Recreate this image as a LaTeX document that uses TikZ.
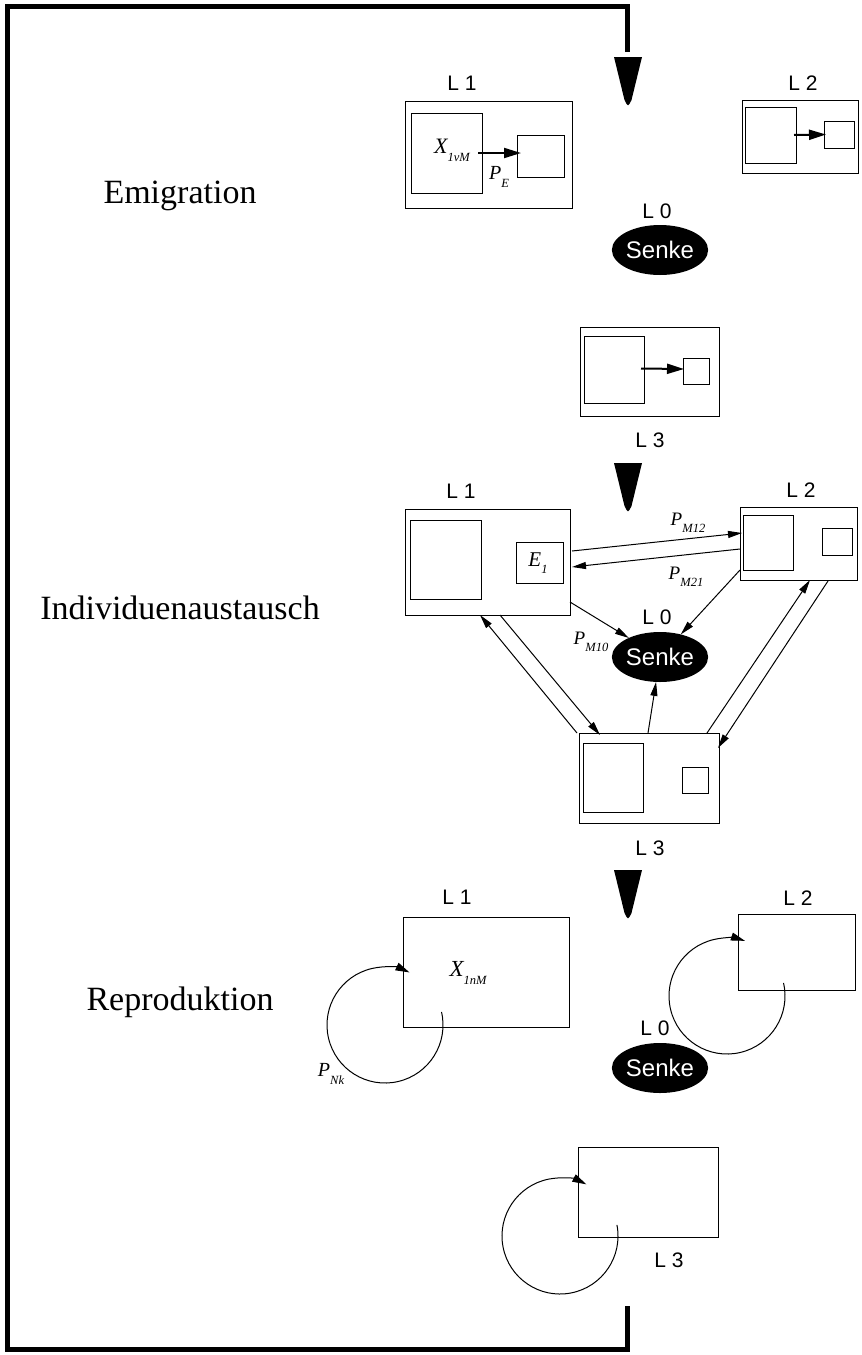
\documentclass[tikz,border=0pt]{standalone}
\usepackage{fontspec}
\setmainfont{Liberation Serif}
\newfontfamily\sansf{Liberation Sans}
\usetikzlibrary{arrows.meta,shapes.geometric,calc}
\newcommand{\msub}[1]{\raisebox{-0.8ex}{\fontsize{12.5}{12.5}\selectfont\itshape #1}}
\tikzset{
  box/.style={draw, line width=1pt, anchor=north west, inner sep=0pt, outer sep=0pt},
  lab/.style={font=\sansf\fontsize{21}{21}\selectfont, inner sep=0pt},
  sect/.style={font=\fontsize{34}{34}\selectfont, inner sep=0pt},
  senke/.style={ellipse, fill=black, text=white, minimum width=76pt, minimum height=50pt, inner sep=0pt, outer sep=0pt, font=\sansf\fontsize{24}{24}\selectfont},
  heavyarr/.style={line width=2pt, -{Triangle[length=17pt,width=10pt]}},
  thinarr/.style={line width=1pt, -{Triangle[length=14pt,width=7pt]}},
  looparr/.style={line width=1pt, -{Triangle[length=14pt,width=8pt]}},
  mlab/.style={font=\fontsize{22}{22}\selectfont\itshape, inner sep=0pt},
  smlab/.style={font=\fontsize{19}{19}\selectfont\itshape, inner sep=0pt},
  frameline/.style={line width=5pt, line join=miter}
}
\begin{document}
\begin{tikzpicture}[x=1pt,y=-1pt]
\useasboundingbox (0,0) rectangle (862,1355);
\fill[white] (0,0) rectangle (862,1355);
% frame
\draw[frameline] (627,52) -- (627,6) -- (7,6) -- (7,1349) -- (627,1349) -- (627,1306);
% step triangles
\foreach \t in {57,463,870}{
  \fill (614,\t) -- (642,\t) -- (631.5,\t+43) .. controls (628,\t+50) .. (624.5,\t+43) -- cycle;
}
% ---------------- Emigration
\node[sect] (t1) at (180,196) {Emigration};
\node[lab] (e1l) at (462,83) {L 1};
\node[box, minimum width=167pt, minimum height=107pt] (e1) at (405,101) {};
\node[box, minimum width=71pt, minimum height=80pt] (e1i) at (411,113) {};
\node[box, minimum width=47pt, minimum height=42pt] (e1s) at (517,135) {};
\node[mlab] (xe) at (452,150) {X\msub{1vM}};
\node[mlab, font=\fontsize{20}{20}\selectfont\itshape] (pe) at (499,177) {P\msub{E}};
\draw[heavyarr] ($(e1i.east)+(-4,0)$) -- ($(e1s.west)+(4,-3)$);

\node[lab] (e2l) at (803,83) {L 2};
\node[box, minimum width=116pt, minimum height=73pt] (e2) at (742,100) {};
\node[box, minimum width=51pt, minimum height=56pt] (e2i) at (745,107) {};
\node[box, minimum width=30pt, minimum height=27pt] (e2s) at (824,121) {};
\draw[heavyarr] ($(e2i.east)+(-2,0)$) -- ($(e2s.west)+(2,0)$);

\node[lab] (e0l) at (657,211) {L 0};
\node[senke] (e0) at (660,250) {Senke};

\node[box, minimum width=139pt, minimum height=89pt] (e3) at (580,327) {};
\node[box, minimum width=60pt, minimum height=67pt] (e3i) at (584,336) {};
\node[box, minimum width=26pt, minimum height=26pt] (e3s) at (683,358) {};
\draw[heavyarr] ($(e3i.east)+(-3,-1)$) -- ($(e3s.west)+(1,-2)$);
\node[lab] (e3l) at (650,440) {L 3};

% ---------------- Individuenaustausch
\node[sect] (t2) at (180,608) {Individuenaustausch};
\node[lab] (i1l) at (461,491) {L 1};
\node[box, minimum width=165pt, minimum height=106pt] (i1) at (405,509) {};
\node[box, minimum width=71pt, minimum height=79pt] (i1i) at (410,520) {};
\node[box, minimum width=47pt, minimum height=41pt] (i1s) at (516,542) {};
\node[mlab, font=\fontsize{21}{21}\selectfont\itshape] (e1t) at (538,563) {E\msub{1}};

\node[lab] (i2l) at (801,490) {L 2};
\node[box, minimum width=117pt, minimum height=73pt] (i2) at (740,507) {};
\node[box, minimum width=50pt, minimum height=55pt] (i2i) at (743,515) {};
\node[box, minimum width=30pt, minimum height=27pt] (i2s) at (822,528) {};

\node[lab] (i0l) at (657,617) {L 0};
\node[senke] (i0) at (660,657) {Senke};

\node[box, minimum width=140pt, minimum height=90pt] (i3) at (579,733) {};
\node[box, minimum width=60pt, minimum height=69pt] (i3i) at (583,743) {};
\node[box, minimum width=26pt, minimum height=26pt] (i3s) at (682,767) {};
\node[lab] (i3l) at (650,848) {L 3};

\draw[thinarr] ($(i1.north east)+(2,42)$) -- ($(i2.north west)+(2,26)$);
\draw[thinarr] ($(i2.north west)+(0,42)$) -- ($(i1.north east)+(2,58)$);
\node[smlab] (pm12) at (688,523) {P\msub{M12}};
\node[smlab] (pm21) at (686,577) {P\msub{M21}};
\draw[thinarr] ($(i1.south east)+(0,-13)$) -- (i0);
\node[smlab] (pm10) at (591,642) {P\msub{M10}};
\draw[thinarr] ($(i2.south west)+(0,-10)$) -- (i0);
\draw[thinarr] ($(i3.north west)+(69,0)$) -- (i0);
\draw[thinarr] ($(i1.south west)+(95,0)$) -- ($(i3.north west)+(21,2)$);
\draw[thinarr] ($(i3.north west)+(-2,0)$) -- ($(i1.south west)+(75,0)$);
\draw[thinarr] ($(i3.north east)+(-12,0)$) -- ($(i2.south west)+(70,0)$);
\draw[thinarr] ($(i2.south west)+(88,1)$) -- ($(i3.north east)+(-1,15)$);

% ---------------- Reproduktion
\node[sect] (t3) at (180,1002) {Reproduktion};
\node[lab] (r1l) at (457,897) {L 1};
\node[box, minimum width=166pt, minimum height=110pt] (r1) at (403,917) {};
\node[mlab, font=\fontsize{23}{23}\selectfont\itshape] (xr) at (468,973) {X\msub{1nM}};
\coordinate (r1c) at ($(r1.south west)+(-18,-2)$);
\draw[looparr] (r1c) ++(-13:58) arc[start angle=-13, end angle=295, radius=58];
\node[mlab, font=\fontsize{20}{20}\selectfont\itshape] (pnk) at (331,1074) {P\msub{Nk}};

\node[lab] (r2l) at (798,898) {L 2};
\node[box, minimum width=117pt, minimum height=76pt] (r2) at (738,914) {};
\coordinate (r2c) at ($(r2.south west)+(-11,6)$);
\draw[looparr] (r2c) ++(-13:58) arc[start angle=-13, end angle=288, radius=58];

\node[lab] (r0l) at (655,1028) {L 0};
\node[senke] (r0) at (660,1068) {Senke};

\node[box, minimum width=140pt, minimum height=90pt] (r3) at (578,1147) {};
\coordinate (r3c) at ($(r3.south west)+(-18,-1)$);
\draw[looparr] (r3c) ++(-11:58) arc[start angle=-11, end angle=297, radius=58];
\node[lab] (r3l) at (669,1260) {L 3};
\end{tikzpicture}
\end{document}
